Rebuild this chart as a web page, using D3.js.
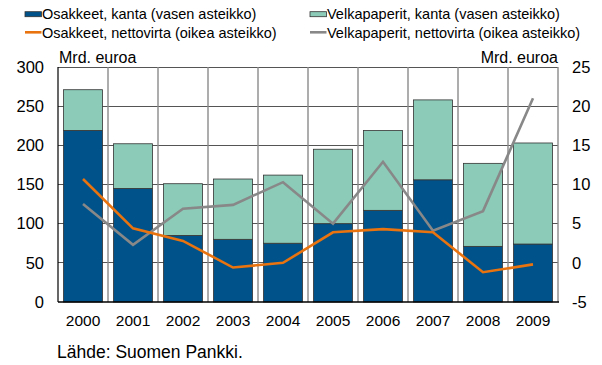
<!DOCTYPE html>
<html>
<head>
<meta charset="utf-8">
<script src="https://cdn.jsdelivr.net/npm/d3@7"></script>
<style>
  html, body { margin: 0; padding: 0; background: #fff; }
  svg { display: block; font-family: "Liberation Sans", Arial, sans-serif; }
</style>
</head>
<body>
<svg id="chart" width="602" height="365"></svg>
<script>
// Vuodet
const years = ["2000","2001","2002","2003","2004","2005","2006","2007","2008","2009"];
// Kannat, mrd. euroa (vasen asteikko)
const osakkeetKanta = [219, 145, 85, 80, 75, 100, 117, 156, 71, 74];
const velkapaperitKanta = [52, 57, 66, 77, 87, 95, 102, 102, 106, 129];
// Nettovirrat, mrd. euroa (oikea asteikko)
const osakkeetVirta = [10.7, 4.4, 2.8, -0.6, 0.0, 3.9, 4.3, 3.9, -1.2, -0.2];
const velkapaperitVirta = [7.5, 2.3, 6.9, 7.4, 10.3, 5.0, 12.9, 4.1, 6.6, 21.0];
// Asteikot
const leftTicks = [0, 50, 100, 150, 200, 250, 300];
const rightTicks = [-5, 0, 5, 10, 15, 20, 25];
const legendLabels = [
  "Osakkeet, kanta (vasen asteikko)",
  "Velkapaperit, kanta (vasen asteikko)",
  "Osakkeet, nettovirta (oikea asteikko)",
  "Velkapaperit, nettovirta (oikea asteikko)"
];

const colBlue = "#00538a", colGreen = "#8ccbb8", colOrange = "#e8730f", colGrey = "#888888";

const svg = d3.select("#chart");
const L = 58, R = 558, T = 67, B = 302;

const x = d3.scaleBand().domain(years).range([L, R]).paddingInner(0.22).paddingOuter(0.11);
const xCell = d3.scaleBand().domain(years).range([L, R]).padding(0);
const yL = d3.scaleLinear().domain([0, 300]).range([B, T]);
const yR = d3.scaleLinear().domain([-5, 25]).range([B, T]);

// Ruudukko
const grid = svg.append("g");
grid.selectAll("line.h").data(leftTicks.filter(d => d > 0)).join("line")
  .attr("x1", L).attr("x2", R).attr("y1", d => yL(d)).attr("y2", d => yL(d))
  .attr("stroke", "#555").attr("stroke-width", 1).attr("shape-rendering", "crispEdges");
grid.selectAll("line.v").data(years).join("line")
  .attr("x1", d => xCell(d) + xCell.bandwidth()).attr("x2", d => xCell(d) + xCell.bandwidth())
  .attr("y1", T).attr("y2", B)
  .attr("stroke", "#8a8a8a").attr("stroke-width", 1.4);

// Pinotut pylväät
const stackData = years.map((y, i) => ({ year: y, osakkeet: osakkeetKanta[i], velka: velkapaperitKanta[i] }));
const series = d3.stack().keys(["osakkeet", "velka"])(stackData);
const colors = [colBlue, colGreen];
svg.append("g").selectAll("g").data(series).join("g")
  .attr("fill", (d, i) => colors[i])
  .selectAll("rect").data(d => d).join("rect")
  .attr("x", d => x(d.data.year))
  .attr("width", x.bandwidth())
  .attr("y", d => yL(d[1]))
  .attr("height", d => yL(d[0]) - yL(d[1]))
  .attr("stroke", "#333").attr("stroke-width", 0.8);

// Viivat
const line = d3.line().x((d, i) => x(years[i]) + x.bandwidth() / 2).y(d => yR(d));
svg.append("path").datum(velkapaperitVirta).attr("d", line)
  .attr("fill", "none").attr("stroke", colGrey).attr("stroke-width", 2.6).attr("stroke-linejoin", "miter");
svg.append("path").datum(osakkeetVirta).attr("d", line)
  .attr("fill", "none").attr("stroke", colOrange).attr("stroke-width", 2.6).attr("stroke-linejoin", "miter");

// Akselit
const fmt = d => String(d);
const axL = svg.append("g").attr("transform", `translate(${L},0)`)
  .call(d3.axisLeft(yL).tickValues(leftTicks).tickFormat(fmt).tickSize(0).tickPadding(14));
const axR = svg.append("g").attr("transform", `translate(${R},0)`)
  .call(d3.axisRight(yR).tickValues(rightTicks).tickFormat(fmt).tickSize(0).tickPadding(14));
const axB = svg.append("g").attr("transform", `translate(0,${B})`)
  .call(d3.axisBottom(x).tickSize(0).tickPadding(13));
[axL, axR].forEach(a => a.selectAll("text").attr("font-size", 16.5).attr("fill", "#000"));
axB.selectAll("text").attr("font-size", 15.5).attr("fill", "#000");
[axL, axR, axB].forEach(a => { a.select(".domain").remove(); a.attr("font-family", null); });

// Akseliviivat
svg.append("line").attr("x1", L).attr("x2", L).attr("y1", T).attr("y2", B)
  .attr("stroke", "#000").attr("stroke-width", 1.2);
svg.append("line").attr("x1", L).attr("x2", R + 1).attr("y1", B).attr("y2", B)
  .attr("stroke", "#000").attr("stroke-width", 1.4);

// Yksiköt
svg.append("text").attr("x", L + 1).attr("y", 63).attr("font-size", 16).text("Mrd. euroa");
svg.append("text").attr("x", R).attr("y", 63).attr("font-size", 16).attr("text-anchor", "end").text("Mrd. euroa");

// Selite
const legend = svg.append("g");
const legX = [25, 310], legY = [14.2, 32.3];
legendLabels.forEach((lab, i) => {
  const gx = legX[i % 2], gy = legY[Math.floor(i / 2)];
  const g = legend.append("g").attr("transform", `translate(${gx},${gy})`);
  if (i < 2) {
    g.append("rect").attr("x", 0).attr("y", -2.5).attr("width", 16.5).attr("height", 5)
      .attr("fill", colors[i]).attr("stroke", "#333").attr("stroke-width", 0.8);
  } else {
    g.append("line").attr("x1", 0).attr("x2", 16.5).attr("y1", 0).attr("y2", 0)
      .attr("stroke", i === 2 ? colOrange : colGrey).attr("stroke-width", 2.6);
  }
  g.append("text").attr("x", 17).attr("y", 5.2).attr("font-size", 14.5).text(lab);
});

// Lähde
svg.append("text").attr("x", 57).attr("y", 358).attr("font-size", 17.5).text("Lähde: Suomen Pankki.");
</script>
</body>
</html>
